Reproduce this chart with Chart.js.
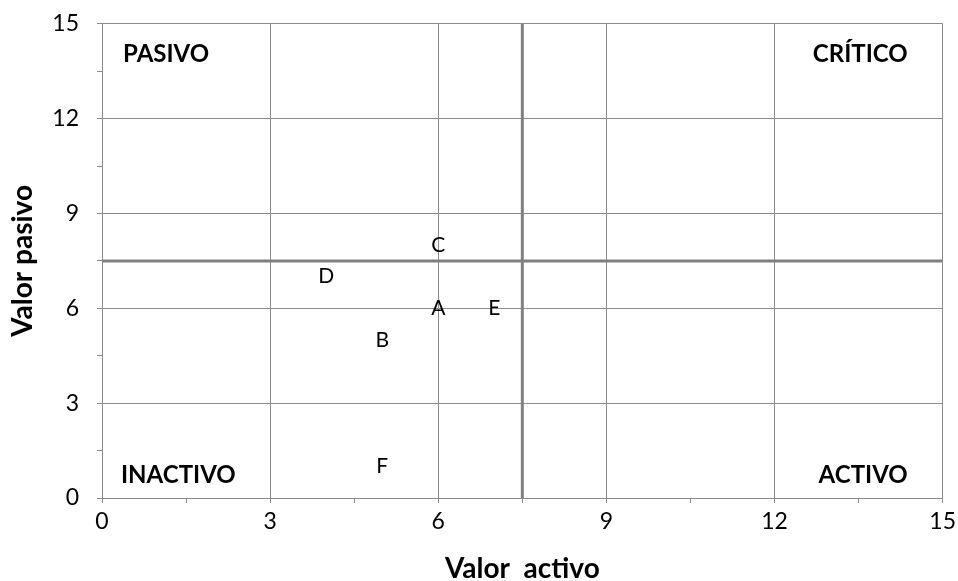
<!DOCTYPE html>
<html>
<head>
<meta charset="utf-8">
<script src="https://cdn.jsdelivr.net/npm/chart.js@4/dist/chart.umd.min.js"></script>
<style>
  html, body { margin: 0; padding: 0; background: #fff; overflow: hidden; }
  #wrap { width: 961px; height: 589px; margin-top: -8px; }
</style>
</head>
<body>
<div id="wrap"><canvas id="chart"></canvas></div>
<script>
const pointNames = ['A', 'B', 'C', 'D', 'E', 'F'];
const activo = [6, 5, 6, 4, 7, 5];
const pasivo = [6, 5, 8, 7, 6, 1];
const quadrants = ['PASIVO', 'CRÍTICO', 'INACTIVO', 'ACTIVO'];
const midValue = 7.5;
const axisMax = 15;

const FONT = "Lato, 'Open Sans', sans-serif";
const GRID = '#8c8c8c';

// draws the letter for each point, the 7.5 cross lines and the corner labels
const labelsPlugin = {
  id: 'labels',
  afterDatasetsDraw(chart) {
    const { ctx, chartArea: a, scales } = chart;
    const xm = scales.x.getPixelForValue(midValue);
    const ym = scales.y.getPixelForValue(midValue);
    ctx.save();
    ctx.strokeStyle = '#808080';
    ctx.lineWidth = 3;
    ctx.beginPath();
    ctx.moveTo(xm, a.top); ctx.lineTo(xm, a.bottom);
    ctx.moveTo(a.left, ym); ctx.lineTo(a.right, ym);
    ctx.stroke();

    ctx.fillStyle = '#000';
    ctx.font = '21px ' + FONT;
    ctx.textAlign = 'center';
    ctx.textBaseline = 'middle';
    chart.getDatasetMeta(0).data.forEach((pt, i) => {
      ctx.fillText(pointNames[i], pt.x, pt.y);
    });

    ctx.font = 'bold 24px ' + FONT;
    ctx.textAlign = 'left';
    ctx.fillText(quadrants[0], a.left + 21, a.top + 30);
    ctx.fillText(quadrants[2], a.left + 19, a.bottom - 23);
    ctx.textAlign = 'right';
    ctx.fillText(quadrants[1], a.right - 35, a.top + 30);
    ctx.fillText(quadrants[3], a.right - 35, a.bottom - 23);
    ctx.restore();
  }
};

function axis(title, pad, titlePad, size) {
  return {
    min: 0, max: axisMax,
    afterFit: s => { if (s.isHorizontal()) s.height = size; else s.width = size; },
    ticks: {
      stepSize: 1.5, autoSkip: false, maxRotation: 0,
      color: '#000', font: { family: FONT, size: 23 }, padding: pad,
      callback: v => (v % 3 === 0 ? v : '')
    },
    grid: {
      color: c => (c.tick && c.tick.value % 3 === 0 ? GRID : 'rgba(0,0,0,0)'),
      tickColor: GRID, tickLength: 5, lineWidth: 1
    },
    border: { color: GRID, width: 1 },
    title: { display: true, text: title, color: '#000', padding: titlePad, font: { family: FONT, size: 28, weight: 'bold' } }
  };
}

new Chart(document.getElementById('chart'), {
  type: 'scatter',
  data: {
    datasets: [{
      data: activo.map((x, i) => ({ x: x, y: pasivo[i] })),
      pointRadius: 0, pointHoverRadius: 0
    }]
  },
  options: {
    responsive: true, maintainAspectRatio: false, animation: false,
    layout: { autoPadding: false, padding: { top: 15, right: 12, left: 4, bottom: 0 } },
    plugins: { legend: { display: false }, tooltip: { enabled: false } },
    scales: {
      x: axis('Valor  activo', 5, { top: 4, bottom: -5 }, 83),
      y: axis('Valor pasivo', 18, { top: 2, bottom: 2 }, 98)
    }
  },
  plugins: [labelsPlugin]
});
</script>
</body>
</html>
